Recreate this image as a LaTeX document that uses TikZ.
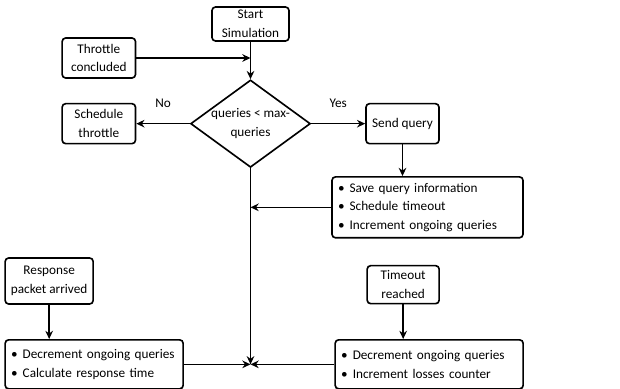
\documentclass[tikz,border=0pt]{standalone}
\usepackage{fontspec}
\setmainfont{Carlito}
\usepackage{tikz}
\usetikzlibrary{shapes.geometric, arrows, arrows.meta}
\tikzstyle{event} = [rectangle, rounded corners=3pt, minimum width=2.2cm, minimum height=1.2cm, inner sep=1pt, text centered, align=center, draw=black, line width=1.4pt]
\tikzstyle{listbox} = [rectangle, rounded corners=3pt, minimum height=1.47cm, inner sep=0.18cm, align=left, draw=black, line width=1.4pt]
\tikzstyle{decision} = [diamond, aspect=1.37, minimum width=3.42cm, minimum height=2.49cm, inner sep=0pt, text centered, align=center, draw=black, line width=1.4pt]
\tikzstyle{arrow} = [line width=1.4pt,->,>={Stealth[length=7pt,width=6.5pt]}]
\newcommand{\bul}{\textbullet\hspace{0.15cm}}

\begin{document}
\begin{tikzpicture}[node distance=2.99cm, font=\fontsize{11.3}{16}\selectfont]
	\useasboundingbox (-7.515,0.72) rectangle (11.085,-10.95);
	\node(start) [event, minimum width=2.31cm, minimum height=1.02cm] {Start\\Simulation};
	\node(decide) [decision, below of=start] {queries < max-\\queries};
	\node(throttle) [event, left of=start, node distance=4.55cm, yshift=-1.02cm] {Throttle\\concluded};
	\node(schedule) [event, left of=decide, node distance=4.55cm] {Schedule\\throttle};
	\node(send) [event, right of=decide, node distance=4.56cm, minimum width=2.19cm] {Send query};
	\node(save) [listbox, below of=send, node distance=2.51cm, xshift=0.75cm, text width=5.37cm, minimum height=1.71cm] {\bul Save query information\\\bul Schedule timeout\\\bul Increment ongoing queries};
	\node(timeout) [event, below of=save, node distance=2.32cm, xshift=-0.73cm, minimum width=2.16cm, minimum height=1.14cm] {Timeout\\reached};
	\node(decloss) [listbox, below of=timeout, node distance=2.39cm, xshift=0.78cm, text width=5.28cm] {\bul Decrement ongoing queries\\\bul Increment losses counter};
	\node(decresp) [listbox, left of=decloss, node distance=10.05cm, text width=4.98cm] {\bul Decrement ongoing queries\\\bul Calculate response time};
	\node(response) [event, above of=decresp, node distance=2.5cm, xshift=-1.35cm, minimum width=2.64cm, minimum height=1.38cm] {Response\\packet arrived};
	\coordinate(join) at (decide |- decresp);
	
	\draw[arrow] (start) -- (decide);
	\draw[arrow] (throttle) -- (throttle -| start);
	\draw[arrow] (decide) -- node[anchor=south, yshift=0.35cm] {No} (schedule);
	\draw[arrow] (decide) -- node[anchor=south, yshift=0.35cm] {Yes} (send);
	\draw[arrow] (send) -- (send |- save.north);
	\draw[arrow] (save) -- (save -| decide);
	\draw[arrow] (decide) -- (join);
	\draw[arrow] (response) -- (response |- decresp.north);
	\draw[arrow] (timeout) -- (timeout |- decloss.north);
	\draw[arrow] (decresp) -- (join);
	\draw[arrow] (decloss) -- (join);
	\end{tikzpicture}
\end{document}
